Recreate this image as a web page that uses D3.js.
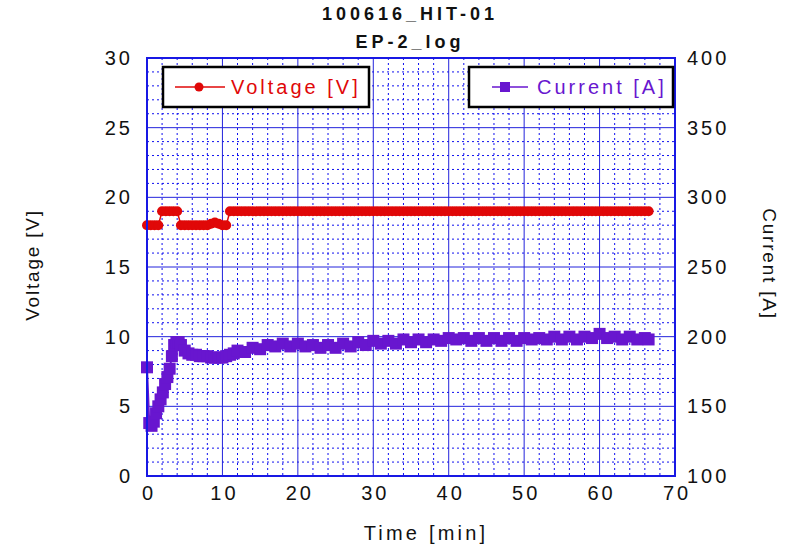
<!DOCTYPE html>
<html>
<head>
<meta charset="utf-8">
<script src="https://cdn.jsdelivr.net/npm/d3@7"></script>
<style>
  body { margin: 0; background: #fff; }
  svg { display: block; }
  text { font-family: "Liberation Sans", Arial, sans-serif; }
</style>
</head>
<body>
<svg id="chart" width="798" height="549"></svg>
<script>
// ---- data ----
const titleLines = ["100616_HIT-01", "EP-2_log"];
const xTicks = [0, 10, 20, 30, 40, 50, 60, 70];
const voltTicks = [0, 5, 10, 15, 20, 25, 30];
const currTicks = [100, 150, 200, 250, 300, 350, 400];

// voltage [V] vs time [min]
const voltTime = [
  0,0.5,1,1.5,2,2.5,3,3.5,4,4.5,5,5.5,6,6.5,7,7.5,8,8.5,9,9.5,
  10,10.5,11,11.5,12,12.5,13,13.5,14,14.5,15,15.5,16,16.5,17,17.5,18,18.5,19,19.5,
  20,20.5,21,21.5,22,22.5,23,23.5,24,24.5,25,25.5,26,26.5,27,27.5,28,28.5,29,29.5,
  30,30.5,31,31.5,32,32.5,33,33.5,34,34.5,35,35.5,36,36.5,37,37.5,38,38.5,39,39.5,
  40,40.5,41,41.5,42,42.5,43,43.5,44,44.5,45,45.5,46,46.5,47,47.5,48,48.5,49,49.5,
  50,50.5,51,51.5,52,52.5,53,53.5,54,54.5,55,55.5,56,56.5,57,57.5,58,58.5,59,59.5,
  60,60.5,61,61.5,62,62.5,63,63.5,64,64.5,65,65.5,66,66.5
];
const voltValue = [
  18,18,18,18,19,19,19,19,19,18,18,18,18,18,18,18,18,18.1,18.2,18.1,
  18,18,19,19,19,19,19,19,19,19,19,19,19,19,19,19,19,19,19,19,
  19,19,19,19,19,19,19,19,19,19,19,19,19,19,19,19,19,19,19,19,
  19,19,19,19,19,19,19,19,19,19,19,19,19,19,19,19,19,19,19,19,
  19,19,19,19,19,19,19,19,19,19,19,19,19,19,19,19,19,19,19,19,
  19,19,19,19,19,19,19,19,19,19,19,19,19,19,19,19,19,19,19,19,
  19,19,19,19,19,19,19,19,19,19,19,19,19,19
];

// current [A] vs time [min]
const currTime = [
  0,0.3,0.6,0.9,1.2,1.5,1.8,2.1,2.4,2.7,3,3.3,3.6,3.9,4.2,4.5,
  5,5.5,6,6.5,7,7.5,8,8.5,9,9.5,10,10.5,11,11.5,
  12,13,14,15,16,17,18,19,20,21,22,23,24,25,26,27,28,29,
  30,31,32,33,34,35,36,37,38,39,40,41,42,43,44,45,46,47,48,49,
  50,51,52,53,54,55,56,57,58,59,60,61,62,63,64,65,66,66.5
];
const currValue = [
  178,138,136,139,145,150,155,160,166,171,177,186,194,196,196,194,
  190,188,187,187,186,186,186,185,185,185,185,186,187,188,
  190,189,192,191,194,193,195,193,195,193,194,192,194,192,195,193,196,194,
  197,195,197,195,198,196,198,196,198,197,199,198,199,197,199,197,199,197,199,197,
  199,198,199,198,200,198,200,198,200,199,202,199,200,198,200,198,199,198
];

// ---- layout ----
const svg = d3.select("#chart");
const plotL = 147, plotR = 675, plotT = 58, plotB = 476;
const gridBlue = "#2323dc";
const red = "#e00808";
const purple = "#6816cf";

const x = d3.scaleLinear().domain([0, 70]).range([plotL, plotR]);
const yV = d3.scaleLinear().domain([0, 30]).range([plotB, plotT]);
const yA = d3.scaleLinear().domain([100, 400]).range([plotB, plotT]);

svg.append("rect").attr("width", 798).attr("height", 549).attr("fill", "#fff");

// minor dotted grid
const grid = svg.append("g");
grid.selectAll(".mx").data(d3.range(0, 70, 2).filter(d => d % 10 != 0)).join("line")
  .attr("x1", d => x(d)).attr("x2", d => x(d))
  .attr("y1", plotT).attr("y2", plotB)
  .attr("stroke", "#1010f0").attr("stroke-width", 1).attr("stroke-dasharray", "2,3");
grid.selectAll(".my").data(d3.range(0, 30, 1).filter(d => d % 5 != 0)).join("line")
  .attr("y1", d => yV(d)).attr("y2", d => yV(d))
  .attr("x1", plotL).attr("x2", plotR)
  .attr("stroke", "#1010f0").attr("stroke-width", 1).attr("stroke-dasharray", "2,3");

// major solid grid
grid.selectAll(".Mx").data(xTicks).join("line")
  .attr("x1", d => x(d)).attr("x2", d => x(d))
  .attr("y1", plotT).attr("y2", plotB)
  .attr("stroke", gridBlue).attr("stroke-width", 1);
grid.selectAll(".My").data(voltTicks).join("line")
  .attr("y1", d => yV(d)).attr("y2", d => yV(d))
  .attr("x1", plotL).attr("x2", plotR)
  .attr("stroke", gridBlue).attr("stroke-width", 1);

// current series
const idxA = d3.range(currTime.length);
svg.append("path")
  .attr("d", d3.line().x(i => x(currTime[i])).y(i => yA(currValue[i]))(idxA))
  .attr("fill", "none").attr("stroke", purple).attr("stroke-width", 2);
svg.append("g").selectAll("rect").data(idxA).join("rect")
  .attr("x", i => x(currTime[i]) - 6).attr("y", i => yA(currValue[i]) - 6)
  .attr("width", 12).attr("height", 12).attr("fill", purple);

// voltage series
const idxV = d3.range(voltTime.length);
svg.append("path")
  .attr("d", d3.line().x(i => x(voltTime[i])).y(i => yV(voltValue[i]))(idxV))
  .attr("fill", "none").attr("stroke", red).attr("stroke-width", 1.5);
svg.append("g").selectAll("circle").data(idxV).join("circle")
  .attr("cx", i => x(voltTime[i])).attr("cy", i => yV(voltValue[i]))
  .attr("r", 5).attr("fill", red);

// plot border
svg.append("rect").attr("x", plotL).attr("y", plotT)
  .attr("width", plotR - plotL).attr("height", plotB - plotT)
  .attr("fill", "none").attr("stroke", "#1818e4").attr("stroke-width", 2);

// axes (labels only)
function styleAxis(g) {
  g.select(".domain").remove();
  g.selectAll("text").attr("fill", "#111").style("font-size", "20px").style("letter-spacing", "3px");
}
svg.append("g").attr("transform", `translate(${plotL},0)`)
  .call(d3.axisLeft(yV).tickValues(voltTicks).tickSize(0).tickPadding(14).tickFormat(d3.format("d")))
  .call(styleAxis);
svg.append("g").attr("transform", `translate(${plotR},0)`)
  .call(d3.axisRight(yA).tickValues(currTicks).tickSize(0).tickPadding(12).tickFormat(d3.format("d")))
  .call(styleAxis);
svg.append("g").attr("transform", `translate(0,${plotB})`)
  .call(d3.axisBottom(x).tickValues(xTicks).tickSize(0).tickPadding(10).tickFormat(d3.format("d")))
  .call(styleAxis)
  .call(g => g.selectAll("text").attr("dx", 1.5));

// titles
svg.selectAll(".title").data(titleLines).join("text")
  .attr("x", 410).attr("y", (d, i) => 20 + i * 28)
  .attr("text-anchor", "middle")
  .style("font-size", "18px").style("font-weight", "bold").style("letter-spacing", "4px")
  .attr("fill", "#111").text(d => d);

svg.append("text").attr("x", 426).attr("y", 540).attr("text-anchor", "middle")
  .style("font-size", "20px").style("letter-spacing", "3.2px").attr("fill", "#111")
  .text("Time [min]");
svg.append("text").attr("transform", "translate(39,265) rotate(-90)").attr("text-anchor", "middle")
  .style("font-size", "19px").style("letter-spacing", "1.8px").attr("fill", "#111")
  .text("Voltage [V]");
svg.append("text").attr("transform", "translate(763,264) rotate(90)").attr("text-anchor", "middle")
  .style("font-size", "19px").style("letter-spacing", "1.8px").attr("fill", "#111")
  .text("Current [A]");

// legends
const lgV = svg.append("g");
lgV.append("rect").attr("x", 163).attr("y", 67).attr("width", 206).attr("height", 40)
  .attr("fill", "#fff").attr("stroke", "#000").attr("stroke-width", 2.5);
lgV.append("line").attr("x1", 175).attr("x2", 225).attr("y1", 87).attr("y2", 87)
  .attr("stroke", red).attr("stroke-width", 1.5);
lgV.append("circle").attr("cx", 199).attr("cy", 87).attr("r", 4.5).attr("fill", red);
lgV.append("text").attr("x", 231).attr("y", 94)
  .style("font-size", "20px").style("letter-spacing", "3px").attr("fill", red)
  .text("Voltage [V]");

const lgA = svg.append("g");
lgA.append("rect").attr("x", 469).attr("y", 67).attr("width", 204).attr("height", 40)
  .attr("fill", "#fff").attr("stroke", "#000").attr("stroke-width", 2.5);
lgA.append("line").attr("x1", 492).attr("x2", 528).attr("y1", 87).attr("y2", 87)
  .attr("stroke", purple).attr("stroke-width", 1.5);
lgA.append("rect").attr("x", 500).attr("y", 82).attr("width", 10).attr("height", 10).attr("fill", purple);
lgA.append("text").attr("x", 537).attr("y", 94)
  .style("font-size", "20px").style("letter-spacing", "3px").attr("fill", purple)
  .text("Current [A]");
</script>
</body>
</html>
